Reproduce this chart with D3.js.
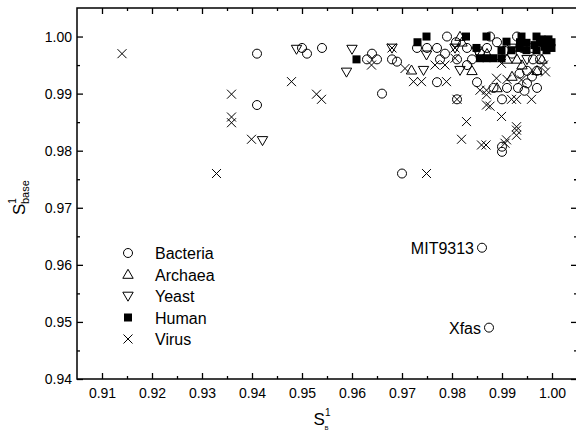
<!DOCTYPE html>
<html><head><meta charset="utf-8">
<script src="https://cdn.jsdelivr.net/npm/d3@7"></script>
<style>body{margin:0;background:#fff}svg{display:block}text{font-family:"Liberation Sans",Arial,sans-serif;fill:#000}</style>
</head><body><svg id="c" width="576" height="436"></svg>
<script>
const xTicks=[0.91,0.92,0.93,0.94,0.95,0.96,0.97,0.98,0.99,1.00];
const yTicks=[0.94,0.95,0.96,0.97,0.98,0.99,1.00];
const seriesNames=["Bacteria","Archaea","Yeast","Human","Virus"];
const bacteria=[[0.941,0.997],[0.950,0.998],[0.951,0.997],[0.954,0.998],[0.963,0.996],[0.964,0.997],[0.965,0.996],[0.966,0.990],[0.941,0.988],[0.968,0.996],[0.969,0.9956],[0.973,0.998],[0.975,0.998],[0.977,0.998],[0.979,1.000],[0.9808,0.999],[0.9786,0.997],[0.9776,0.996],[0.981,0.996],[0.983,0.998],[0.9876,1.000],[0.987,0.998],[0.989,0.999],[0.993,1.000],[0.9856,0.997],[0.985,0.992],[0.977,0.992],[0.983,0.995],[0.991,0.991],[0.9932,0.991],[0.995,0.994],[0.997,0.994],[0.996,0.993],[0.9962,0.996],[0.9976,0.996],[0.997,0.991],[0.990,0.989],[0.9883,0.991],[0.995,0.9918],[0.981,0.989],[0.970,0.976],[0.990,0.9807],[0.990,0.9798],[0.992,0.997],[0.994,0.998],[0.996,0.998],[0.984,0.996],[0.9905,0.9975],[0.9935,0.9935],[0.9945,0.9905],[0.986,0.963],[0.9874,0.949]];
const archaea=[[0.9719,0.9941],[0.9816,1.000],[0.984,0.994],[0.991,0.996],[0.993,0.996],[0.989,0.991],[0.997,0.994],[0.998,0.996],[0.982,0.999],[0.992,0.993],[0.994,0.995],[0.987,0.997]];
const yeast=[[0.9489,0.9978],[0.960,0.9978],[0.9589,0.9938],[0.9421,0.9818],[0.968,0.998],[0.9743,0.9941],[0.9749,0.9968],[0.9806,0.998],[0.9816,0.9941],[0.985,0.9975],[0.992,0.998],[0.995,0.996]];
const human=[[0.9609,0.996],[0.9749,1.000],[0.9731,0.999],[0.9828,1.000],[0.9869,1.000],[0.9939,1.000],[0.9969,1.000],[0.9849,0.998],[0.9909,0.9991],[0.9936,0.999],[0.9949,0.9989],[0.9983,0.9989],[0.999,0.9989],[0.9949,0.9976],[0.9969,0.9976],[0.9989,0.9976],[0.9899,0.9976],[0.9919,0.9976],[0.9856,0.9962],[0.9869,0.9962],[0.9883,0.9962],[0.9899,0.9962],[0.9976,0.999],[0.9999,0.999],[0.9999,0.998],[0.9935,0.998],[0.9965,0.9985],[0.9985,0.9982],[0.9979,0.9995],[0.9993,0.9995]];
const virus=[[0.914,0.997],[0.9359,0.9899],[0.9359,0.9859],[0.9359,0.9849],[0.9399,0.982],[0.9329,0.976],[0.9479,0.9921],[0.9529,0.9899],[0.9539,0.989],[0.9639,0.995],[0.968,0.998],[0.9706,0.9944],[0.9723,0.9921],[0.9739,0.9921],[0.9766,0.995],[0.9786,0.995],[0.9789,0.9921],[0.9806,0.998],[0.9806,0.9962],[0.9869,0.9906],[0.9869,0.9898],[0.9869,0.988],[0.9876,0.9878],[0.9889,0.9927],[0.991,0.9925],[0.9919,0.989],[0.9929,0.989],[0.9959,0.989],[0.9899,0.986],[0.9829,0.9851],[0.9929,0.9842],[0.9983,0.995],[0.9987,0.9938],[0.9939,0.9924],[0.9899,0.9953],[0.9856,0.9906],[0.981,0.989],[0.9819,0.982],[0.9859,0.981],[0.9868,0.981],[0.9906,0.9813],[0.9909,0.9819],[0.9929,0.9836],[0.9929,0.9827],[0.9749,0.976]];
const annotations=[{name:"MIT9313",x:0.986,y:0.963},{name:"Xfas",x:0.9874,y:0.949}];

const svg=d3.select("#c");
const L=77,R=577,T=8,B=379;
const x=d3.scaleLinear().domain([0.905,1.005]).range([L,R]);
const y=d3.scaleLinear().domain([0.94,1.005]).range([B,T]);
const minorX=d3.range(0,21).map(i=>0.905+i*0.005).filter(v=>v>0.9051&&v<1.0049&&xTicks.every(t=>Math.abs(t-v)>1e-6));
const minorY=d3.range(0,14).map(i=>0.94+i*0.005).filter(v=>v>0.9401&&v<1.0049&&yTicks.every(t=>Math.abs(t-v)>1e-6));

const shapes={
  Bacteria:(g)=>g.append("circle").attr("r",4.5).attr("fill","none").attr("stroke","#000"),
  Archaea:(g)=>g.append("path").attr("d","M0,-5.2L5.2,3.8L-5.2,3.8Z").attr("fill","none").attr("stroke","#000"),
  Yeast:(g)=>g.append("path").attr("d","M0,5.2L5.2,-3.8L-5.2,-3.8Z").attr("fill","none").attr("stroke","#000"),
  Human:(g)=>g.append("rect").attr("x",-4).attr("y",-4).attr("width",8).attr("height",8).attr("fill","#000"),
  Virus:(g)=>g.append("path").attr("d","M-4.5,-4.5L4.5,4.5M-4.5,4.5L4.5,-4.5").attr("stroke","#000").attr("fill","none")
};
const data={Bacteria:bacteria,Archaea:archaea,Yeast:yeast,Human:human,Virus:virus};
const plot=svg.append("g");
seriesNames.forEach(n=>{
  data[n].forEach(d=>{
    const g=plot.append("g").attr("transform",`translate(${x(d[0])},${y(d[1])})`);
    shapes[n](g).attr("stroke-width",1);
  });
});

function ax(gen,tr,vals,len,fmt){
  const g=svg.append("g").attr("transform",tr).call(gen.tickValues(vals).tickSize(len).tickPadding(5).tickFormat(fmt));
  g.select(".domain").remove();
  g.selectAll("line").attr("stroke","#000").attr("stroke-width",1.3);
  g.selectAll("text").style("font-size","14px");
  return g;
}
const f2=d3.format(".2f");
ax(d3.axisBottom(x),`translate(0,${B})`,xTicks,-6,f2).selectAll("text").attr("dy","0.71em").attr("y",9);
ax(d3.axisBottom(x),`translate(0,${B})`,minorX,-3,"");
ax(d3.axisTop(x),`translate(0,${T})`,xTicks,-6,"");
ax(d3.axisTop(x),`translate(0,${T})`,minorX,-3,"");
ax(d3.axisLeft(y),`translate(${L},0)`,yTicks,-6,f2).selectAll("text").attr("x",-5);
ax(d3.axisLeft(y),`translate(${L},0)`,minorY,-3,"");
ax(d3.axisRight(y),`translate(${R},0)`,yTicks,-6,"");
ax(d3.axisRight(y),`translate(${R},0)`,minorY,-3,"");
svg.append("rect").attr("x",L).attr("y",T).attr("width",R-L).attr("height",B-T).attr("fill","none").attr("stroke","#000").attr("stroke-width",1.5);

annotations.forEach(a=>{
  svg.append("text").attr("x",x(a.x)-8).attr("y",y(a.y)+6).attr("text-anchor","end").style("font-size","16px").text(a.name);
});

const lg=svg.append("g");
seriesNames.forEach((n,i)=>{
  const cy=253+i*21.5;
  const g=lg.append("g").attr("transform",`translate(128,${cy})`);
  shapes[n](g).attr("stroke-width",1);
  lg.append("text").attr("x",155).attr("y",cy+6).style("font-size","16px").text(n);
});

const xt=svg.append("text").attr("x",322).attr("y",425).attr("text-anchor","middle").style("font-size","17px");
xt.append("tspan").text("S");
xt.append("tspan").attr("dy",-9).style("font-size","10px").text("1");
xt.append("tspan").attr("dx",-6).attr("dy",14).style("font-size","6px").text("B");
const yt=svg.append("text").attr("transform","translate(25,215) rotate(-90)").attr("text-anchor","start").style("font-size","17px");
yt.append("tspan").text("S");
yt.append("tspan").attr("dy",-9).style("font-size","10px").text("1");
yt.append("tspan").attr("dx",-6).attr("dy",13).style("font-size","11px").text("base");
</script></body></html>
